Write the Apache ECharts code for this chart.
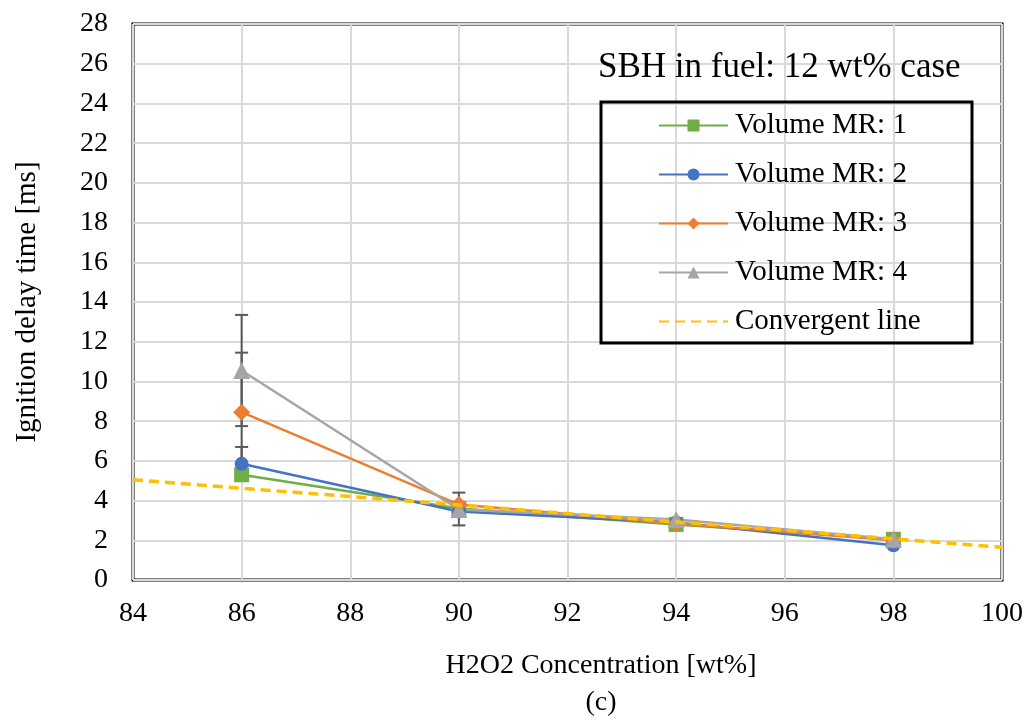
<!DOCTYPE html>
<html><head><meta charset="utf-8">
<script src="https://cdn.jsdelivr.net/npm/echarts@6/dist/echarts.min.js"></script>
<style>html,body{margin:0;padding:0;background:#fff}#c{width:1028px;height:720px}</style>
</head><body><div id="c"></div>
<script>
const xValues = [86, 90, 94, 98];
const mr1 = [5.3, 3.6, 2.8, 2.05];
const mr2 = [5.85, 3.45, 2.9, 1.75];
const mr3 = [8.45, 3.8, 2.85, 2.0];
const mr4 = [10.55, 3.55, 3.05, 2.05];
const convergentX = [84, 100];
const convergentY = [5.05, 1.65];
// error bars: x, low, high
const errX = [86, 86, 86, 90];
const errLow = [7.75, 5.45, 5.0, 2.75];
const errHigh = [13.35, 11.45, 6.7, 4.4];
const seriesNames = ['Volume MR: 1', 'Volume MR: 2', 'Volume MR: 3', 'Volume MR: 4', 'Convergent line'];
const xTicks = {min: 84, max: 100, interval: 2};
const yTicks = {min: 0, max: 28, interval: 2};
const xTitle = 'H2O2 Concentration [wt%]';
const yTitle = 'Ignition delay time [ms]';
const subLabel = '(c)';
const annotation = 'SBH in fuel: 12 wt% case';

const font = 'Liberation Serif';
const pair = (xs, ys) => xs.map((x, i) => [x, ys[i]]);

const chart = echarts.init(document.getElementById('c'), null, {renderer: 'canvas'});
const lineSeries = (name, data, color, symbol, size) => ({
  name, type: 'line', data: pair(xValues, data), symbol, symbolSize: size,
  lineStyle: {color, width: 2.5}, itemStyle: {color}, z: 3
});
chart.setOption({
  animation: false,
  textStyle: {fontFamily: font},
  grid: {left: 133, right: 26, top: 24, bottom: 140, show: true, borderColor: '#000', borderWidth: 3, backgroundColor: 'transparent'},
  xAxis: {
    type: 'value', min: xTicks.min, max: xTicks.max, interval: xTicks.interval,
    axisLine: {show: false}, axisTick: {show: false},
    axisLabel: {color: '#000', fontSize: 28, fontFamily: font, margin: 20},
    splitLine: {lineStyle: {color: '#d9d9d9', width: 2}}
  },
  yAxis: {
    type: 'value', min: yTicks.min, max: yTicks.max, interval: yTicks.interval,
    axisLine: {show: false}, axisTick: {show: false},
    axisLabel: {color: '#000', fontSize: 28, fontFamily: font, margin: 25},
    splitLine: {lineStyle: {color: '#d9d9d9', width: 2}},
    name: yTitle, nameLocation: 'middle', nameGap: 91,
    nameTextStyle: {color: '#000', fontSize: 29, fontFamily: font}
  },
  legend: {
    orient: 'vertical', left: 658, top: 111, padding: 0, itemWidth: 69, itemHeight: 15, itemGap: 20,
    textStyle: {color: '#000', fontSize: 29, fontFamily: font, padding: [0, 0, 0, 2]},
    data: [seriesNames[0], seriesNames[1], seriesNames[2], seriesNames[3],
      {name: seriesNames[4], itemStyle: {opacity: 0, color: 'transparent', borderWidth: 0}}]
  },
  graphic: [
    {type: 'rect', shape: {x: 601, y: 102, width: 371, height: 241}, style: {fill: 'none', stroke: '#000', lineWidth: 3}, z: 10},
    {type: 'text', x: 598, y: 68, style: {text: annotation, font: '35px "Liberation Serif"', fill: '#000', textVerticalAlign: 'middle'}, z: 10},
    {type: 'text', x: 601, y: 666, style: {text: xTitle, font: '28px "Liberation Serif"', fill: '#000', textAlign: 'center', textVerticalAlign: 'middle'}, z: 10},
    {type: 'text', x: 601, y: 703, style: {text: subLabel, font: '28px "Liberation Serif"', fill: '#000', textAlign: 'center', textVerticalAlign: 'middle'}, z: 10}
  ],
  series: [
    {
      type: 'custom', name: 'err', z: 2, silent: true,
      data: errX.map((x, i) => [x, errLow[i], errHigh[i]]),
      renderItem: (params, api) => {
        const lo = api.coord([api.value(0), api.value(1)]);
        const hi = api.coord([api.value(0), api.value(2)]);
        const w = 6.5;
        const st = {stroke: '#595959', lineWidth: 2};
        return {type: 'group', children: [
          {type: 'line', shape: {x1: lo[0], y1: lo[1], x2: hi[0], y2: hi[1]}, style: st},
          {type: 'line', shape: {x1: lo[0] - w, y1: lo[1], x2: lo[0] + w, y2: lo[1]}, style: st},
          {type: 'line', shape: {x1: hi[0] - w, y1: hi[1], x2: hi[0] + w, y2: hi[1]}, style: st}
        ]};
      }
    },
    lineSeries(seriesNames[0], mr1, '#70ad47', 'rect', 15),
    lineSeries(seriesNames[1], mr2, '#4472c4', 'circle', 14),
    lineSeries(seriesNames[2], mr3, '#ed7d31', 'diamond', 17),
    lineSeries(seriesNames[3], mr4, '#a5a5a5', 'triangle', 17),
    {
      name: seriesNames[4], type: 'line', data: pair(convergentX, convergentY), symbol: 'none',
      lineStyle: {color: '#ffc000', width: 3.5, type: [10, 6]}, itemStyle: {color: '#ffc000'}, z: 4
    }
  ]
});
</script></body></html>
